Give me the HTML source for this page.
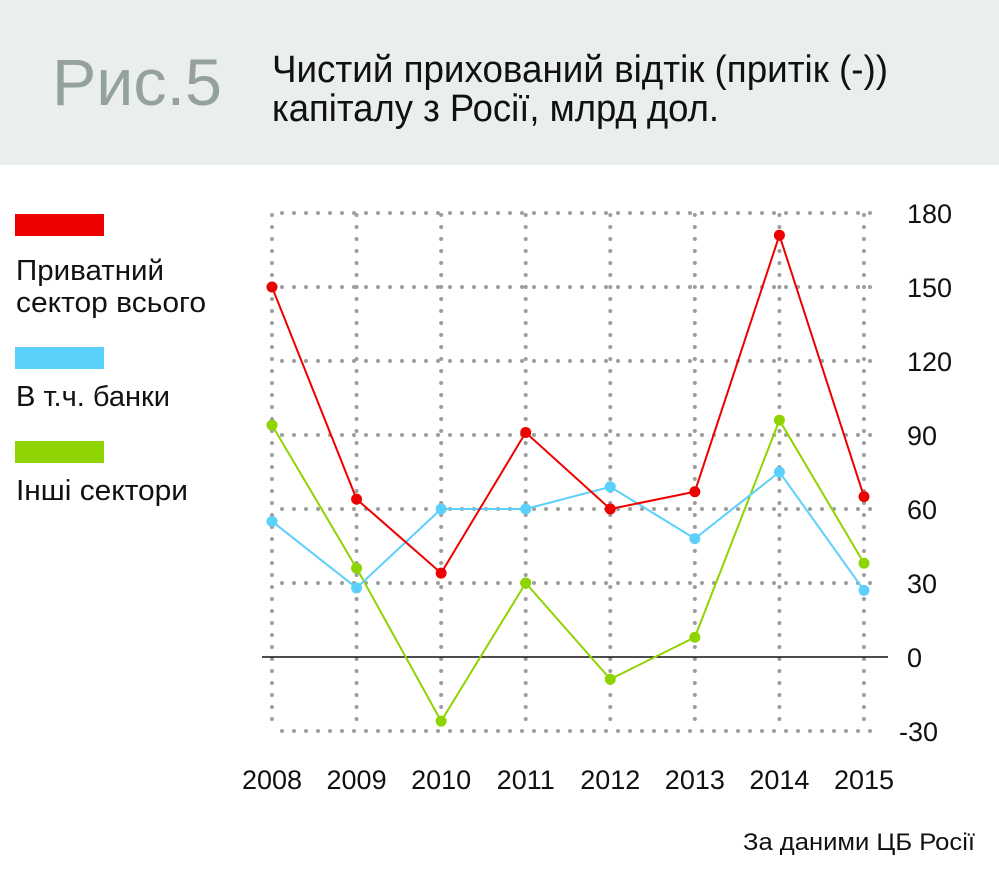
<!DOCTYPE html>
<html><head><meta charset="utf-8"><style>
html,body{margin:0;padding:0;background:#fff}
svg{display:block}
text{font-family:"Liberation Sans",sans-serif}
</style></head><body>
<svg id="chart" width="999" height="888" viewBox="0 0 999 888" xmlns="http://www.w3.org/2000/svg">
<rect x="0" y="0" width="999" height="165" fill="#eaeeec"/>
<text x="52" y="105" font-size="66" fill="#95a19c" textLength="170" lengthAdjust="spacingAndGlyphs">Рис.5</text>
<text x="272" y="82" font-size="38" fill="#111" textLength="616" lengthAdjust="spacingAndGlyphs">Чистий прихований відтік (притік (-))</text>
<text x="272" y="121" font-size="38" fill="#111" textLength="447" lengthAdjust="spacingAndGlyphs">капіталу з Росії, млрд дол.</text>

<rect x="15" y="214" width="89" height="22" fill="#ee0000"/>
<text x="16" y="280" font-size="29" fill="#111" textLength="148" lengthAdjust="spacingAndGlyphs">Приватний</text>
<text x="16" y="312" font-size="29" fill="#111" textLength="190" lengthAdjust="spacingAndGlyphs">сектор всього</text>
<rect x="15" y="347" width="89" height="22" fill="#5bd0fa"/>
<text x="16" y="406" font-size="29" fill="#111" textLength="154" lengthAdjust="spacingAndGlyphs">В т.ч. банки</text>
<rect x="15" y="441" width="89" height="22" fill="#8ed400"/>
<text x="16" y="500" font-size="29" fill="#111" textLength="172" lengthAdjust="spacingAndGlyphs">Інші сектори</text>

<g id="grid"></g>
<g id="marks"></g>
<text x="743" y="850" font-size="24" fill="#111" textLength="232" lengthAdjust="spacingAndGlyphs">За даними ЦБ Росії</text>
</svg>
<script>
const years = ["2008","2009","2010","2011","2012","2013","2014","2015"];
const yTicks = [-30,0,30,60,90,120,150,180];
const privateTotal = [150,64,34,91,60,67,171,65];
const banks = [55,28,60,60,69,48,75,27];
const otherSectors = [94,36,-26,30,-9,8,96,38];

const NS="http://www.w3.org/2000/svg";
const x0=272, dx=84.57;
function xs(i){return x0+i*dx;}
function ys(v){return 657-v*(444/180);}
function mk(tag,attrs,parent){const e=document.createElementNS(NS,tag);for(const k in attrs)e.setAttribute(k,attrs[k]);parent.appendChild(e);return e;}
const grid=document.getElementById('grid'), marks=document.getElementById('marks');

yTicks.forEach(t=>{
  if(t!==0){
    const l=mk('line',{x1:282,x2:880,y1:ys(t),y2:ys(t),stroke:'#9a9e9d','stroke-width':4,'stroke-linecap':'round','stroke-dasharray':'0 12'},grid);
    
    
  }
  const tx=mk('text',{x:t<0?899:907,y:ys(t)+10,'font-size':27,fill:'#111'},grid);
  tx.textContent=String(t);
  
  
});
years.forEach((y,i)=>{
  const l=mk('line',{x1:xs(i),x2:xs(i),y1:ys(180)+2,y2:ys(-30),stroke:'#9a9e9d','stroke-width':4,'stroke-linecap':'round','stroke-dasharray':'0 12'},grid);
  
  
  const tx=mk('text',{x:xs(i),y:789,'font-size':27,fill:'#111','text-anchor':'middle'},grid);
  tx.textContent=y;
  
  
});
const z=mk('line',{x1:262,x2:888,y1:ys(0),y2:ys(0),stroke:'#111','stroke-width':1.5},grid);



function series(vals,color,name){
  const p=mk('polyline',{points:vals.map((v,i)=>xs(i)+','+ys(v)).join(' '),fill:'none',stroke:color,'stroke-width':2},marks);
  
  
  vals.forEach((v,i)=>{
    const c=mk('circle',{cx:xs(i),cy:ys(v),r:5.5,fill:color},marks);
    
    
  });
}
series(otherSectors,'#8ed400','other-sectors');
series(banks,'#5bd0fa','banks');
series(privateTotal,'#ee0000','private-total');
</script>
</body></html>
